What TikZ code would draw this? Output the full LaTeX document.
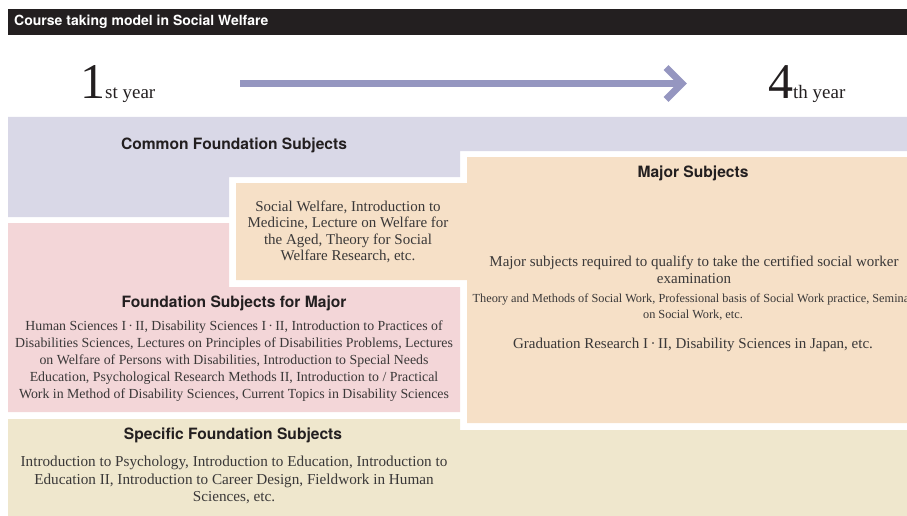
\documentclass[tikz,border=0pt]{standalone}
\usepackage{fontspec}
\setmainfont{Liberation Serif}
\setsansfont{TeX Gyre Heros}
\definecolor{titleblack}{RGB}{35,31,32}
\definecolor{bodygray}{RGB}{58,56,56}
\definecolor{arrowblue}{RGB}{149,150,192}
\definecolor{commoncol}{RGB}{217,216,231}
\definecolor{majorcol}{RGB}{246,224,199}
\definecolor{basiccol}{RGB}{243,214,216}
\definecolor{specificcol}{RGB}{239,231,205}

\begin{document}
\begin{tikzpicture}[x=1pt,y=-1pt,
    heading/.style={font=\sffamily\bfseries\fontsize{15.6}{18}\selectfont, text=titleblack, inner sep=0pt},
    body/.style={font=\fontsize{15}{16.5}\selectfont, align=center, text=bodygray, inner sep=0pt},
    yeararrow/.style={draw=arrowblue, line width=7pt}]
    \useasboundingbox (0,0) rectangle (907,516);
    \fill[titleblack] (8,9) rectangle (907,35);
    \node[anchor=west, text=white, font=\sffamily\bfseries\fontsize{14}{16}\selectfont, inner sep=0pt] (title) at (14,22) {Course taking model in Social Welfare};
    \node[anchor=base west, inner sep=0pt, text=titleblack] (first) at (80,98.5) {\fontsize{50}{50}\selectfont 1\fontsize{19}{19}\selectfont st year};
    \node[anchor=base west, inner sep=0pt, text=titleblack] (fourth) at (768,98.5) {\fontsize{50}{50}\selectfont 4\fontsize{19}{19}\selectfont th year};
    \coordinate (arrowstart) at (240,83.5);
    \coordinate (arrowend) at (682,83.5);
    \draw[yeararrow] (arrowstart) -- (arrowend);
    \draw[yeararrow, line join=miter] ([shift={(-16,-16)}]arrowend) -- (arrowend) -- ([shift={(-16,16)}]arrowend);
    \fill[commoncol] (8,117) -- (907,117) -- (907,151) -- (460,151) -- (460,177) -- (229,177) -- (229,217) -- (8,217) -- cycle;
    \fill[majorcol] (467,157) -- (907,157) -- (907,423) -- (467,423) -- (467,280) -- (236,280) -- (236,183) -- (467,183) -- cycle;
    \fill[basiccol] (8,223) -- (229,223) -- (229,287) -- (460,287) -- (460,412) -- (8,412) -- cycle;
    \fill[specificcol] (8,419) -- (460,419) -- (460,430) -- (907,430) -- (907,516) -- (8,516) -- cycle;
    \node[heading] (common) at (234,145) {Common Foundation Subjects};
    \node[body] (welfare) at (348,232) {Social Welfare, Introduction to\\Medicine, Lecture on Welfare for\\the Aged, Theory for Social\\Welfare Research, etc.};
    \node[heading] (major) at (693,173) {Major Subjects};
    \node[body] (qualify) at (694,270) {Major subjects required to qualify to take the certified social worker\\examination};
    \node[body, font=\fontsize{12.3}{16}\selectfont] (theory) at (693,307) {Theory and Methods of Social Work, Professional basis of Social Work practice, Seminar\\on Social Work, etc.};
    \node[body] (graduation) at (693,345) {Graduation Research I\,·\,II, Disability Sciences in Japan, etc.};
    \node[heading] (basic) at (234,303) {Foundation Subjects for Major};
    \node[body, font=\fontsize{13.85}{17}\selectfont] (basiclist) at (234,361) {Human Sciences I\,·\,II, Disability Sciences I\,·\,II, Introduction to Practices of\\Disabilities Sciences, Lectures on Principles of Disabilities Problems, Lectures\\on Welfare of Persons with Disabilities, Introduction to Special Needs\\Education, Psychological Research Methods II, Introduction to / Practical\\Work in Method of Disability Sciences, Current Topics in Disability Sciences};
    \node[heading] (specific) at (233,435) {Specific Foundation Subjects};
    \node[body, font=\fontsize{15.2}{17.5}\selectfont] (specificlist) at (234,480) {Introduction to Psychology, Introduction to Education, Introduction to\\Education II, Introduction to Career Design, Fieldwork in Human\\Sciences, etc.};
\end{tikzpicture}
\end{document}
